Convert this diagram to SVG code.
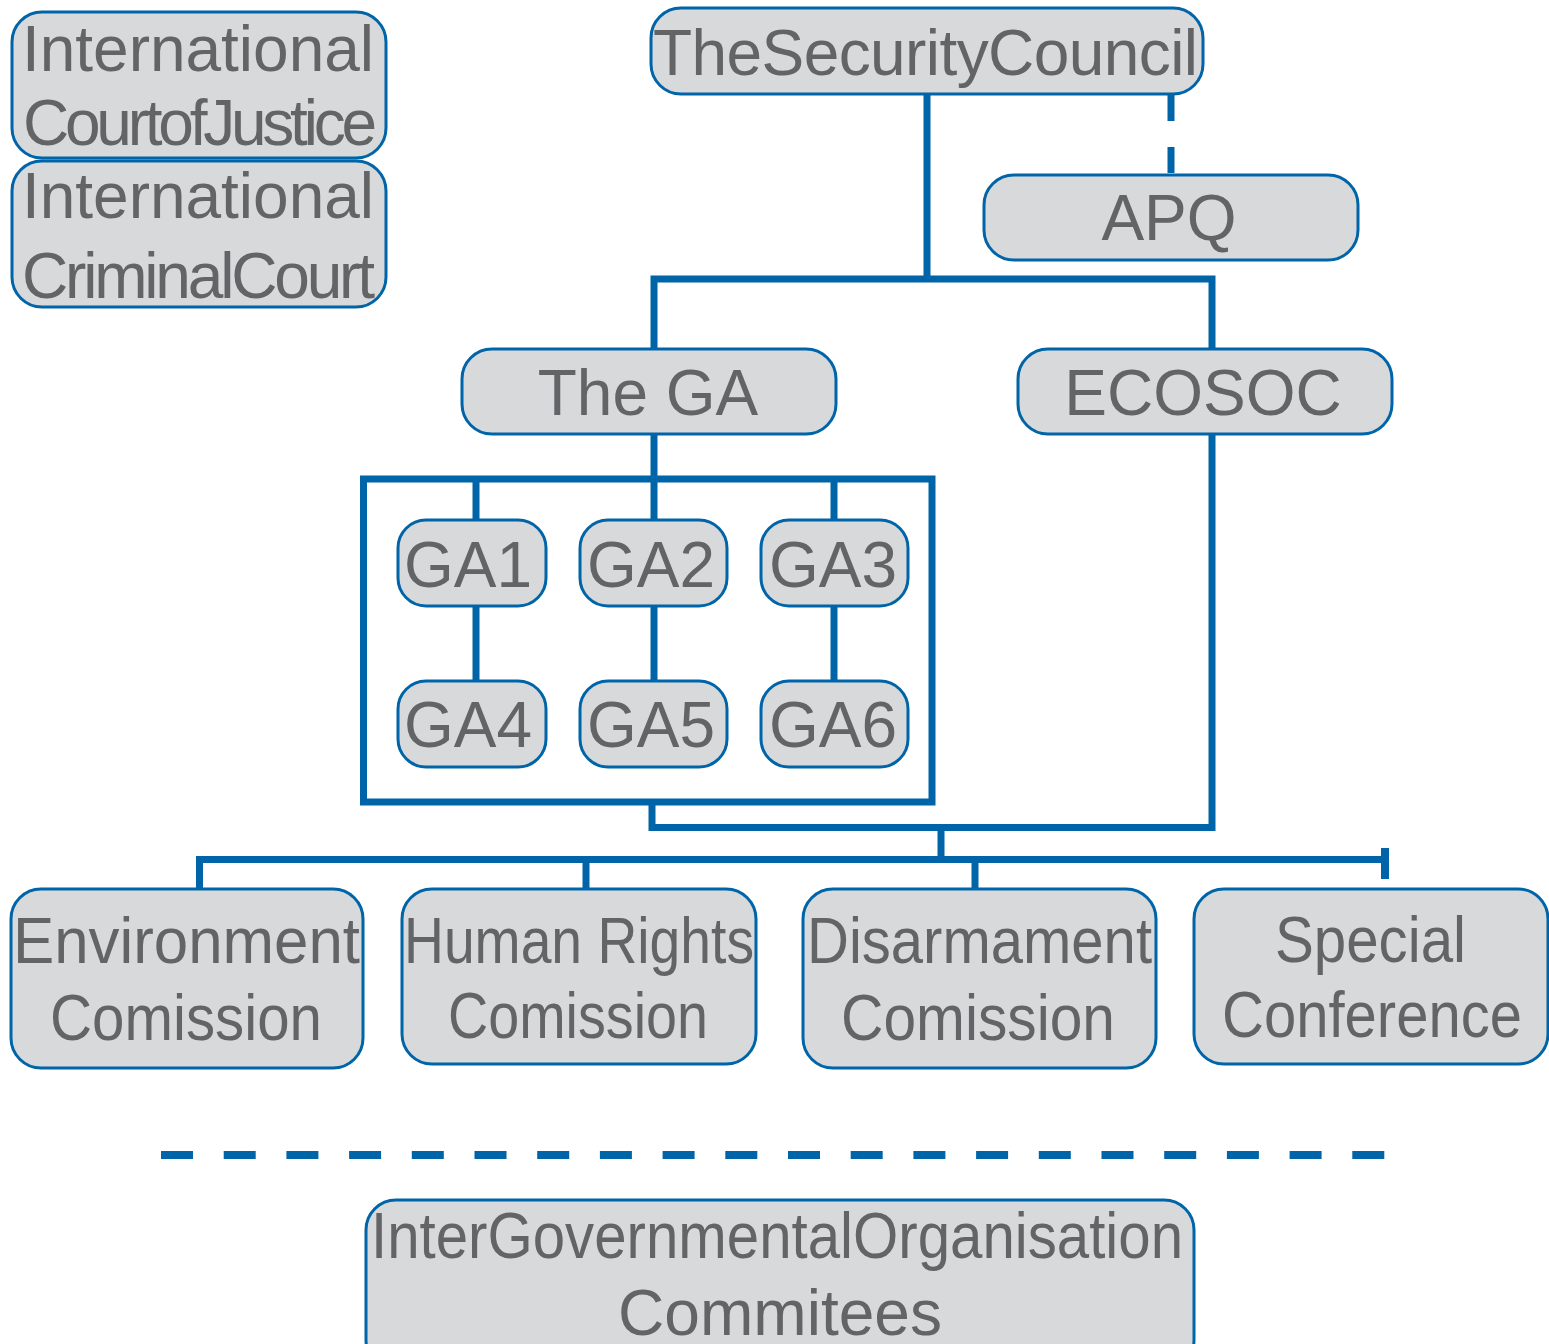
<svg xmlns="http://www.w3.org/2000/svg" width="1549" height="1344" viewBox="0 0 1549 1344">
<style>
.box{fill:#d8d9db;stroke:#0065a8;stroke-width:3}
.t{font-family:"Liberation Sans",Arial,Helvetica,sans-serif;font-size:64px;fill:#636466}
.m{text-anchor:middle}
.c{fill:none;stroke:#0065a8;stroke-width:7;stroke-linejoin:miter}
</style>
<rect width="1549" height="1344" fill="#ffffff"/>
<g id="connectors">
<line class="c" x1="927" y1="94" x2="927" y2="279"/>
<line class="c" x1="1171" y1="95" x2="1171" y2="175" stroke-dasharray="26 26"/>
<path class="c" d="M654 349 V279 H1212 V349"/>
<line class="c" x1="654" y1="434" x2="654" y2="520"/>
<rect class="c" x="363.5" y="479" width="568.5" height="323"/>
<line class="c" x1="476" y1="479" x2="476" y2="520"/>
<line class="c" x1="834" y1="479" x2="834" y2="520"/>
<line class="c" x1="476" y1="606" x2="476" y2="681"/>
<line class="c" x1="654" y1="606" x2="654" y2="681"/>
<line class="c" x1="834" y1="606" x2="834" y2="681"/>
<path class="c" d="M652 802 V827.5 H1212 V434"/>
<line class="c" x1="941" y1="827.5" x2="941" y2="859.5"/>
<path class="c" d="M199.5 889 V859.5 H1385"/>
<line class="c" x1="1385" y1="848" x2="1385" y2="879" style="stroke-width:8"/>
<line class="c" x1="586" y1="859.5" x2="586" y2="889"/>
<line class="c" x1="975" y1="859.5" x2="975" y2="889"/>
<line class="c" x1="161" y1="1155" x2="1386" y2="1155" style="stroke-width:8" stroke-dasharray="32 30.7"/>
</g>
<g id="icj">
<rect class="box" x="12" y="12" width="374" height="146" rx="30"/>
<text class="t" x="22" y="71" textLength="352" lengthAdjust="spacing">International</text>
<text class="t" x="23" y="145" textLength="354" lengthAdjust="spacing">CourtofJustice</text>
</g>
<g id="icc">
<rect class="box" x="12" y="161" width="374" height="146" rx="30"/>
<text class="t" x="22" y="218" textLength="352" lengthAdjust="spacing">International</text>
<text class="t" x="22" y="298" textLength="353" lengthAdjust="spacing">CriminalCourt</text>
</g>
<g id="sc">
<rect class="box" x="651" y="8" width="552" height="86" rx="30"/>
<text class="t" x="653" y="75" textLength="545" lengthAdjust="spacing">TheSecurityCouncil</text>
</g>
<g id="apq">
<rect class="box" x="984" y="175" width="374" height="85" rx="30"/>
<text class="t m" x="1169" y="240">APQ</text>
</g>
<g id="ga">
<rect class="box" x="462" y="349" width="374" height="85" rx="30"/>
<text class="t m" x="648" y="415">The GA</text>
</g>
<g id="ecosoc">
<rect class="box" x="1018" y="349" width="374" height="85" rx="30"/>
<text class="t m" x="1203" y="415">ECOSOC</text>
</g>
<g id="ga1"><rect class="box" x="398" y="520" width="148" height="86" rx="28"/><text class="t m" x="468" y="587">GA1</text></g>
<g id="ga2"><rect class="box" x="580" y="520" width="147" height="86" rx="28"/><text class="t m" x="651" y="587">GA2</text></g>
<g id="ga3"><rect class="box" x="761" y="520" width="147" height="86" rx="28"/><text class="t m" x="833" y="587">GA3</text></g>
<g id="ga4"><rect class="box" x="398" y="681" width="148" height="86" rx="28"/><text class="t m" x="468" y="747">GA4</text></g>
<g id="ga5"><rect class="box" x="580" y="681" width="147" height="86" rx="28"/><text class="t m" x="651" y="747">GA5</text></g>
<g id="ga6"><rect class="box" x="761" y="681" width="147" height="86" rx="28"/><text class="t m" x="833" y="747">GA6</text></g>
<g id="env">
<rect class="box" x="11" y="889" width="352" height="179" rx="30"/>
<text class="t" x="13" y="963" textLength="347" lengthAdjust="spacingAndGlyphs">Environment</text>
<text class="t" x="50" y="1040" textLength="272" lengthAdjust="spacingAndGlyphs">Comission</text>
</g>
<g id="hr">
<rect class="box" x="402" y="889" width="354" height="175" rx="30"/>
<text class="t" x="404" y="963" textLength="350" lengthAdjust="spacingAndGlyphs">Human Rights</text>
<text class="t" x="448" y="1038" textLength="260" lengthAdjust="spacingAndGlyphs">Comission</text>
</g>
<g id="dis">
<rect class="box" x="803" y="889" width="353" height="179" rx="30"/>
<text class="t" x="807" y="963" textLength="345" lengthAdjust="spacingAndGlyphs">Disarmament</text>
<text class="t" x="841" y="1040" textLength="274" lengthAdjust="spacingAndGlyphs">Comission</text>
</g>
<g id="special">
<rect class="box" x="1194" y="889" width="354" height="175" rx="30"/>
<text class="t" x="1275" y="962" textLength="191" lengthAdjust="spacingAndGlyphs">Special</text>
<text class="t" x="1222" y="1037" textLength="300" lengthAdjust="spacingAndGlyphs">Conference</text>
</g>
<g id="igo">
<rect class="box" x="366" y="1200" width="828" height="170" rx="30"/>
<text class="t" x="371" y="1258" textLength="812" lengthAdjust="spacingAndGlyphs">InterGovernmentalOrganisation</text>
<text class="t" x="618" y="1335" textLength="324" lengthAdjust="spacingAndGlyphs">Commitees</text>
</g>
</svg>
